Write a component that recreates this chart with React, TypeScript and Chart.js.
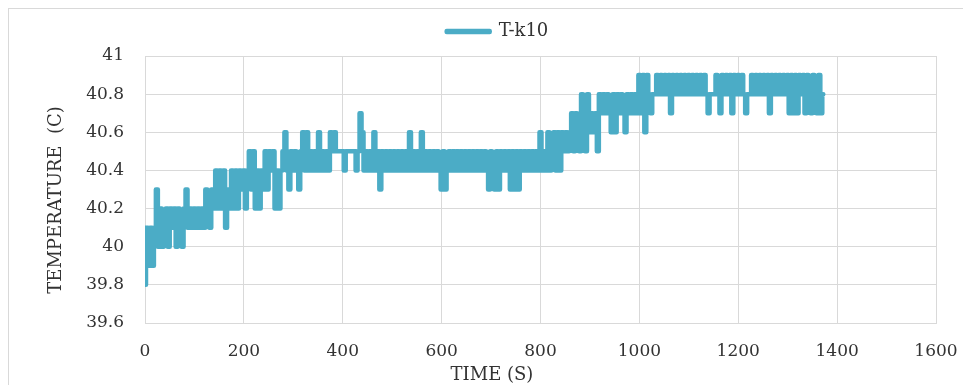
import { useEffect, useRef } from "react";
import { Chart, registerables } from "chart.js";

Chart.register(...registerables);

const SERIES_LABEL = "T-k10";
const X_TITLE = "TIME (S)";
const Y_TITLE = "TEMPERATURE  (C)";

// sampling interval of the logged series (seconds)
const SAMPLE_STEP_S = 4;

// temperature readings (°C), one every SAMPLE_STEP_S seconds
const temps = [
  // 0 - 36 s
  39.8, 40.1, 39.9, 40.1, 39.9, 40.1, 40.3, 40.0, 40.2, 40.0,
  // 40 - 76
  40.1, 40.2, 40.0, 40.2, 40.1, 40.2, 40.0, 40.2, 40.1, 40.0,
  // 80 - 116
  40.2, 40.3, 40.1, 40.2, 40.1, 40.2, 40.1, 40.2, 40.1, 40.2,
  // 120 - 156
  40.1, 40.3, 40.2, 40.1, 40.3, 40.2, 40.4, 40.2, 40.4, 40.2,
  // 160 - 196
  40.4, 40.1, 40.3, 40.2, 40.4, 40.2, 40.4, 40.2, 40.4, 40.3,
  // 200 - 236
  40.4, 40.2, 40.4, 40.5, 40.3, 40.5, 40.2, 40.4, 40.2, 40.4,
  // 240 - 276
  40.3, 40.5, 40.3, 40.5, 40.4, 40.5, 40.2, 40.4, 40.2, 40.4,
  // 280 - 316
  40.5, 40.6, 40.4, 40.3, 40.5, 40.4, 40.5, 40.4, 40.3, 40.5,
  // 320 - 356
  40.6, 40.4, 40.6, 40.4, 40.5, 40.4, 40.5, 40.4, 40.6, 40.4,
  // 360 - 396
  40.5, 40.4, 40.5, 40.4, 40.6, 40.5, 40.6, 40.5, 40.5, 40.5,
  // 400 - 436
  40.5, 40.4, 40.5, 40.5, 40.5, 40.5, 40.5, 40.4, 40.5, 40.7,
  // 440 - 476
  40.6, 40.4, 40.5, 40.4, 40.5, 40.4, 40.6, 40.4, 40.5, 40.3,
  // 480 - 516
  40.5, 40.4, 40.5, 40.4, 40.5, 40.4, 40.5, 40.4, 40.5, 40.4,
  // 520 - 556
  40.5, 40.4, 40.5, 40.4, 40.6, 40.4, 40.5, 40.4, 40.5, 40.4,
  // 560 - 596
  40.6, 40.4, 40.5, 40.4, 40.5, 40.4, 40.5, 40.4, 40.5, 40.4,
  // 600 - 636
  40.3, 40.5, 40.3, 40.4, 40.5, 40.4, 40.5, 40.4, 40.5, 40.4,
  // 640 - 676
  40.5, 40.4, 40.5, 40.4, 40.5, 40.4, 40.5, 40.4, 40.5, 40.4,
  // 680 - 716
  40.5, 40.4, 40.5, 40.4, 40.3, 40.5, 40.4, 40.3, 40.5, 40.3,
  // 720 - 756
  40.5, 40.4, 40.5, 40.4, 40.5, 40.3, 40.5, 40.3, 40.5, 40.3,
  // 760 - 796
  40.5, 40.4, 40.5, 40.4, 40.5, 40.4, 40.5, 40.4, 40.5, 40.4,
  // 800 - 836
  40.6, 40.4, 40.5, 40.4, 40.6, 40.4, 40.5, 40.6, 40.4, 40.6,
  // 840 - 876
  40.4, 40.6, 40.5, 40.6, 40.5, 40.6, 40.7, 40.5, 40.7, 40.6,
  // 880 - 916
  40.5, 40.8, 40.7, 40.5, 40.8, 40.6, 40.7, 40.6, 40.7, 40.5,
  // 920 - 956
  40.8, 40.7, 40.8, 40.7, 40.8, 40.7, 40.6, 40.8, 40.6, 40.8,
  // 960 - 996
  40.7, 40.8, 40.7, 40.6, 40.8, 40.7, 40.8, 40.7, 40.8, 40.7,
  // 1000 - 1036
  40.9, 40.7, 40.9, 40.6, 40.9, 40.8, 40.7, 40.8, 40.8, 40.9,
  // 1040 - 1076
  40.8, 40.9, 40.8, 40.9, 40.8, 40.9, 40.7, 40.9, 40.8, 40.9,
  // 1080 - 1116
  40.8, 40.9, 40.8, 40.9, 40.8, 40.9, 40.8, 40.9, 40.8, 40.9,
  // 1120 - 1156
  40.8, 40.9, 40.8, 40.9, 40.8, 40.7, 40.8, 40.8, 40.8, 40.9,
  // 1160 - 1196
  40.8, 40.7, 40.9, 40.8, 40.9, 40.8, 40.9, 40.7, 40.9, 40.8,
  // 1200 - 1236
  40.9, 40.8, 40.9, 40.8, 40.7, 40.8, 40.8, 40.9, 40.8, 40.9,
  // 1240 - 1276
  40.8, 40.9, 40.8, 40.9, 40.8, 40.9, 40.7, 40.9, 40.8, 40.9,
  // 1280 - 1316
  40.8, 40.9, 40.8, 40.9, 40.8, 40.9, 40.7, 40.9, 40.7, 40.9,
  // 1320 - 1356
  40.7, 40.9, 40.8, 40.9, 40.7, 40.9, 40.8, 40.7, 40.9, 40.8,
  // 1360 - 1372
  40.7, 40.9, 40.7, 40.8,
];

// time stamps of the samples (s)
const times = temps.map((_, i) => i * SAMPLE_STEP_S);

// axis ranges / tick spacing
const X_MIN = 0;
const X_MAX = 1600;
const X_STEP = 200;
const Y_MIN = 39.6;
const Y_MAX = 41;
const Y_STEP = 0.2;

const LINE_COLOR = "#4BACC6";
const GRID_COLOR = "#d9d9d9";
const TEXT_COLOR = "#333333";
const FONT_FAMILY = "'DejaVu Serif', serif";

// axis titles are centred on the (wider, cropped) Excel chart box, not on the plot area
const axisTitlesPlugin = {
  id: "axisTitles",
  afterDraw(chart: any) {
    const ctx = chart.ctx as CanvasRenderingContext2D;
    ctx.save();
    ctx.fillStyle = TEXT_COLOR;
    ctx.font = `18px ${FONT_FAMILY}`;
    ctx.textAlign = "center";
    ctx.textBaseline = "middle";
    ctx.fillText(X_TITLE, 492, 375);
    ctx.translate(56, 200);
    ctx.rotate(-Math.PI / 2);
    ctx.fillText(Y_TITLE, 0, 0);
    ctx.restore();
  },
};

export default function App() {
  const canvasRef = useRef<HTMLCanvasElement>(null);

  useEffect(() => {
    if (!canvasRef.current) return;
    const font = { family: FONT_FAMILY, size: 17 };
    const chart = new Chart(canvasRef.current, {
      type: "line",
      data: {
        datasets: [
          {
            label: SERIES_LABEL,
            data: times.map((t, i) => ({ x: t, y: temps[i] })),
            borderColor: LINE_COLOR,
            backgroundColor: LINE_COLOR,
            borderWidth: 4.5,
            pointRadius: 0,
            pointHoverRadius: 0,
            borderJoinStyle: "round",
            borderCapStyle: "round",
            stepped: "middle",
            fill: false,
          },
        ],
      },
      options: {
        responsive: false,
        animation: false,
        events: [],
        layout: { padding: { left: 59, right: 27, top: 12.5, bottom: 0 } },
        plugins: {
          legend: {
            position: "top",
            labels: {
              boxWidth: 43,
              boxHeight: 1,
              padding: 10,
              color: TEXT_COLOR,
              font: { family: FONT_FAMILY, size: 18 },
            },
          },
          title: {
            display: true,
            text: "",
            weight: 0,
            padding: 0,
            font: { size: 5.5, lineHeight: 1 },
          },
          tooltip: { enabled: false },
        },
        scales: {
          x: {
            type: "linear",
            min: X_MIN,
            max: X_MAX,
            ticks: {
              stepSize: X_STEP,
              padding: 0,
              color: TEXT_COLOR,
              font,
              callback: (v: any) => String(v),
            },
            grid: {
              color: GRID_COLOR,
              drawTicks: true,
              tickLength: 18,
              tickColor: "rgba(0,0,0,0)",
              lineWidth: 1,
            },
            border: { color: GRID_COLOR },
            afterFit: (scale: any) => {
              scale.height = 62;
            },
          },
          y: {
            type: "linear",
            min: Y_MIN,
            max: Y_MAX,
            ticks: {
              stepSize: Y_STEP,
              padding: 21,
              color: TEXT_COLOR,
              font,
              callback: (v: any) => String(Math.round(Number(v) * 10) / 10),
            },
            grid: { color: GRID_COLOR, drawTicks: false, lineWidth: 1 },
            border: { color: GRID_COLOR },
            afterFit: (scale: any) => {
              scale.width = 86;
            },
          },
        },
      },
      plugins: [axisTitlesPlugin],
    } as any);
    return () => chart.destroy();
  }, []);

  return (
    <div
      style={{
        position: "fixed",
        left: 0,
        top: 0,
        width: 963,
        height: 385,
        overflow: "hidden",
        background: "#ffffff",
      }}
    >
      <div
        style={{
          position: "absolute",
          left: 8,
          top: 8,
          width: 1000,
          height: 400,
          borderLeft: `1px solid ${GRID_COLOR}`,
          borderTop: `1px solid ${GRID_COLOR}`,
        }}
      />
      <canvas
        ref={canvasRef}
        width={963}
        height={385}
        style={{ position: "absolute", left: 0, top: 0, display: "block" }}
      />
    </div>
  );
}
